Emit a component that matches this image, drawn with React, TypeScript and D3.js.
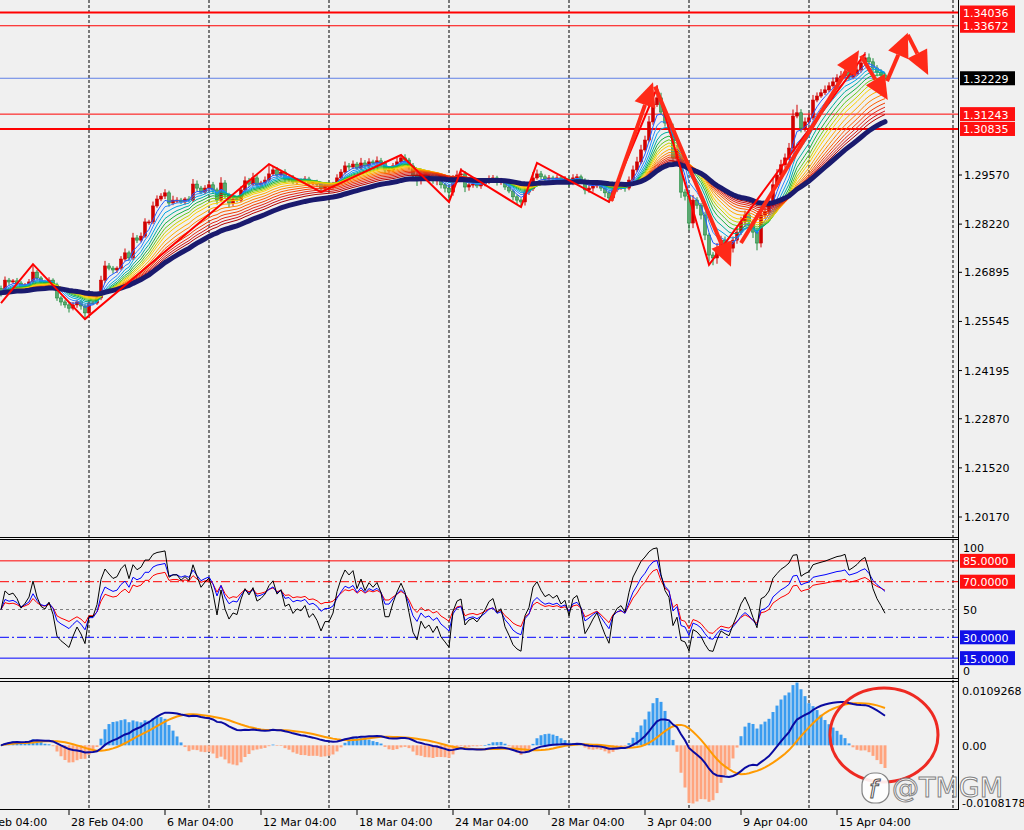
import React from "react";
import * as d3 from "d3";

// ---------- DATA ----------
const closes: number[] = [
  1.2633,1.2668,1.2663,1.2666,1.2660,1.2649,1.2655,1.2663,1.2690,1.2674,
  1.2663,1.2660,1.2668,1.2655,1.2619,1.2608,1.2600,1.2591,1.2600,1.2608,
  1.2597,1.2578,1.2605,1.2605,1.2619,1.2668,1.2707,1.2701,1.2696,1.2701,
  1.2726,1.2743,1.2729,1.2784,1.2778,1.2789,1.2828,1.2828,1.2872,1.2891,
  1.2899,1.2908,1.2880,1.2888,1.2888,1.2883,1.2891,1.2888,1.2932,1.2921,
  1.2910,1.2921,1.2930,1.2916,1.2888,1.2935,1.2902,1.2880,1.2891,1.2888,
  1.2916,1.2941,1.2932,1.2949,1.2930,1.2935,1.2943,1.2960,1.2971,1.2957,
  1.2965,1.2946,1.2949,1.2938,1.2943,1.2941,1.2946,1.2935,1.2938,1.2932,
  1.2921,1.2927,1.2927,1.2932,1.2949,1.2965,1.2982,1.2979,1.2987,1.2976,
  1.2990,1.2982,1.2993,1.2990,1.2996,1.2990,1.2971,1.2971,1.2982,1.2993,
  1.3004,1.2998,1.2982,1.2957,1.2943,1.2960,1.2949,1.2952,1.2941,1.2946,
  1.2930,1.2921,1.2910,1.2943,1.2957,1.2960,1.2924,1.2930,1.2932,1.2927,
  1.2932,1.2938,1.2946,1.2949,1.2938,1.2941,1.2924,1.2913,1.2897,1.2888,
  1.2883,1.2910,1.2919,1.2949,1.2960,1.2952,1.2946,1.2949,1.2946,1.2949,
  1.2943,1.2946,1.2935,1.2949,1.2952,1.2943,1.2916,1.2921,1.2927,1.2932,
  1.2921,1.2908,1.2894,1.2916,1.2924,1.2927,1.2921,1.2943,1.2971,1.2993,
  1.3026,1.3053,1.3103,1.3150,1.3169,1.3130,1.3100,1.3086,1.3004,1.3026,
  1.2910,1.2899,1.2825,1.2888,1.2874,1.2847,1.2792,1.2737,1.2729,1.2756,
  1.2778,1.2765,1.2756,1.2778,1.2800,1.2828,1.2847,1.2828,1.2800,1.2770,
  1.2847,1.2855,1.2874,1.2930,1.2957,1.2985,1.3004,1.3031,1.3119,1.3128,
  1.3086,1.3103,1.3114,1.3163,1.3174,1.3183,1.3191,1.3202,1.3213,1.3224,
  1.3229,1.3240,1.3226,1.3235,1.3246,1.3265,1.3279,1.3268,1.3251,1.3240,
  1.3232,1.32229,
];
const firstOpen = 1.2645;
// wick lengths in pips (0.0001)
const upperWick: number[] = [
  8,10,6,5,8,6,5,8,22,6,5,6,8,5,6,5,6,5,8,6,
  5,6,8,6,10,12,14,8,6,5,8,12,6,14,8,10,10,6,12,10,
  8,10,6,12,8,6,5,8,14,10,6,8,10,8,6,16,8,6,8,6,
  10,12,8,14,8,6,10,28,10,8,6,8,6,8,6,5,8,6,5,6,
  5,6,8,6,10,8,12,8,10,6,14,8,10,6,12,8,6,10,8,12,
  8,10,6,8,6,12,8,6,8,6,5,6,8,14,12,16,8,6,8,6,
  8,6,10,8,6,8,5,6,5,6,5,12,8,16,12,8,6,8,6,8,
  6,8,6,10,8,6,5,8,6,8,6,5,6,8,6,8,6,10,12,14,
  14,12,16,20,35,14,10,8,12,14,10,8,12,14,8,6,8,6,8,14,
  12,10,8,10,12,14,12,8,6,10,16,12,14,18,16,14,12,14,18,22,
  10,12,14,14,10,10,12,10,12,10,14,10,8,10,14,18,16,12,10,8,
  8,6,
];
const lowerWick: number[] = [
  10,6,8,5,6,8,6,5,6,8,5,6,8,6,8,10,8,12,6,8,
  10,18,8,6,5,6,8,6,10,8,6,5,8,6,8,6,5,8,6,5,
  6,8,10,6,8,6,8,6,5,8,6,6,8,10,12,6,10,12,8,6,
  6,5,8,6,10,8,6,5,6,8,6,10,8,6,8,6,8,10,6,8,
  10,8,6,8,6,5,6,8,6,5,6,8,6,5,6,8,10,8,6,5,
  6,8,10,14,16,12,8,10,8,12,10,12,26,10,8,6,14,10,8,6,
  8,6,6,8,10,8,8,6,10,12,14,10,8,6,5,6,8,6,8,6,
  8,6,10,6,8,6,12,8,10,6,8,12,14,8,6,8,10,6,5,6,
  6,5,6,8,6,8,10,12,14,12,16,12,20,14,10,12,14,18,20,16,
  14,12,16,12,10,8,10,12,16,20,12,10,8,8,6,6,8,6,8,6,
  12,10,8,6,6,5,6,6,5,6,5,6,8,6,6,8,6,8,10,12,
  8,6,
];

const ribbonPeriods = [4, 6, 8, 10, 12, 14, 16, 18, 21, 24, 27, 30, 33, 36, 39];
const ribbonColors = ["#1e5cff","#2a86ff","#00a4e4","#00ae9c","#18b040","#64c81c","#c4d200","#ffd000","#ffaa00","#ff8400","#ff5c00","#f03c00","#e42814","#d01414","#b00000"];
const basePeriod = 46;

const priceTicks = [1.29570, 1.28220, 1.26895, 1.25545, 1.24195, 1.22870, 1.21520, 1.20170];
const levelPrices = [1.34036, 1.33672, 1.31243, 1.30835];
const levelThick = [true, false, false, true];
const currentPrice = 1.32229;

const dateLabels = ["24 Feb 04:00","28 Feb 04:00","6 Mar 04:00","12 Mar 04:00","18 Mar 04:00","24 Mar 04:00","28 Mar 04:00","3 Apr 04:00","9 Apr 04:00","15 Apr 04:00"];
const dateBars = [-7, 17, 41, 65, 89, 113, 137, 161, 185, 209];
const gridBars = [22, 52, 82, 112, 142, 172, 202, 238];

const zigBars = [0, 8, 21, 67, 80, 100, 112, 115, 130, 134, 152, 164, 177, 216];
const zigPrices = [1.2605, 1.2712, 1.2561, 1.2987, 1.2910, 1.3012, 1.2883, 1.2971, 1.2869, 1.2990, 1.2883, 1.3196, 1.2710, 1.3290];

const arrowFromBar = [152.5, 163.5, 185, 215, 221.5, 226.7];
const arrowFromPrice = [1.2885, 1.3200, 1.2770, 1.3285, 1.3215, 1.3342];
const arrowToBar = [163, 182.5, 214.5, 221.7, 226.7, 231.8];
const arrowToPrice = [1.3212, 1.2705, 1.3300, 1.3163, 1.3348, 1.3232];

const rsiPeriods = [7, 14, 21];
const rsiColors = ["#000000", "#0000ff", "#ff0000"];
const rsiLevels = [85, 70, 50, 30, 15];
const rsiLevelLabels = ["85.0000", "70.0000", "50", "30.0000", "15.0000"];

const macdFast = 12, macdSlow = 26, macdSignal = 9;
const macdLineScale = 0.85, macdHistScale = 2.5;
const macdMax = 0.0109268, macdMin = -0.0108178;
const macdLabels = ["0.0109268", "0.00", "-0.0108178"];

// ---------- helpers ----------
function ema(src: number[], p: number) {
  const a = 2 / (p + 1);
  const out: number[] = [];
  let v = src[0];
  src.forEach((s, i) => { v = i === 0 ? s : a * s + (1 - a) * v; out.push(v); });
  return out;
}
function sma(src: number[], p: number) {
  return src.map((_, i) => {
    const s = src.slice(Math.max(0, i - p + 1), i + 1);
    return d3.mean(s) as number;
  });
}
function rsi(src: number[], p: number) {
  let ag = 0.0008, al = 0.0008;
  const out: number[] = [];
  src.forEach((c, i) => {
    if (i > 0) {
      const d = c - src[i - 1];
      ag = (ag * (p - 1) + Math.max(d, 0)) / p;
      al = (al * (p - 1) + Math.max(-d, 0)) / p;
    }
    out.push(100 - 100 / (1 + ag / al));
  });
  return out;
}

export default function App() {
  const W = 1024, H = 830;
  const N = closes.length;
  const opens = closes.map((c, i) => (i === 0 ? firstOpen : closes[i - 1]));
  const highs = closes.map((c, i) => Math.max(c, opens[i]) + upperWick[i] * 0.0001);
  const lows = closes.map((c, i) => Math.min(c, opens[i]) - lowerWick[i] * 0.0001);
  const idx = d3.range(N);

  const x = d3.scaleLinear().domain([0, 238]).range([1, 953]);
  const y = d3.scaleLinear().domain([1.20170, 1.29570]).range([517, 175]);
  const yR = d3.scaleLinear().domain([0, 100]).range([679, 540]);
  const yM = d3.scaleLinear().domain([macdMin, macdMax]).range([809, 681]);

  const ribbons = ribbonPeriods.map((p) => ema(closes, p));
  const base = ema(closes, basePeriod);
  const rsis = rsiPeriods.map((p) => rsi(closes, p));
  const e1 = ema(closes, macdFast), e2 = ema(closes, macdSlow);
  const macdRaw = e1.map((v, i) => v - e2[i]);
  const sigRaw = sma(macdRaw, macdSignal);
  const macd = macdRaw.map((v) => v * macdLineScale);
  const sig = sigRaw.map((v) => v * macdLineScale);
  const hist = macdRaw.map((v, i) => (v - sigRaw[i]) * macdHistScale);

  const line = (arr: number[], sc: d3.ScaleLinear<number, number>) =>
    d3.line<number>().x((_, i) => x(i)).y((v) => sc(v))(arr) || "";

  const zig = d3.line<number>().x((b) => x(b)).y((_, i) => y(zigPrices[i]))(zigBars) || "";

  const arrows = arrowFromBar.map((b, i) => {
    const x1 = x(b), y1 = y(arrowFromPrice[i]);
    const x2 = x(arrowToBar[i]), y2 = y(arrowToPrice[i]);
    const dx = x2 - x1, dy = y2 - y1, L = Math.hypot(dx, dy);
    const ux = dx / L, uy = dy / L;
    const hl = 24, hw = 11;
    const bx = x2 - ux * hl, by = y2 - uy * hl;
    const head = `M${x2},${y2}L${bx - uy * hw},${by + ux * hw}L${bx + uy * hw},${by - ux * hw}Z`;
    return { x1, y1, bx, by, head };
  });

  const red = "#ff0000";
  const labelBox = (cy: number, txt: string, bg: string, key: string) => (
    <g key={key}>
      <rect x={960} y={cy - 7} width={55} height={14} fill={bg} />
      <text x={963} y={cy + 4.5} fill="#fff">{txt}</text>
    </g>
  );

  return (
    <svg width={W} height={H} style={{ position: "fixed", left: 0, top: 0 }} fontFamily="DejaVu Sans" fontSize={11}>
      <defs>
        <clipPath id="cMain"><rect x={0} y={0} width={958} height={537} /></clipPath>
        <clipPath id="cRsi"><rect x={0} y={540} width={958} height={138} /></clipPath>
        <clipPath id="cMacd"><rect x={0} y={682} width={958} height={127} /></clipPath>
      </defs>
      <rect width={W} height={H} fill="#f0f0f0" />

      {/* grid */}
      {gridBars.map((b) => (
        <line key={b} x1={x(b)} x2={x(b)} y1={0} y2={810} stroke="#000" strokeDasharray="3,2" />
      ))}

      {/* MAIN PANEL */}
      <g clipPath="url(#cMain)">
        {levelPrices.map((p, i) => (
          <line key={p} x1={0} x2={958} y1={y(p)} y2={y(p)} stroke={red} strokeWidth={levelThick[i] ? 2 : 1} />
        ))}
        <line x1={0} x2={958} y1={y(currentPrice)} y2={y(currentPrice)} stroke="#3c64e6" strokeWidth={0.8} />
        {idx.map((i) => {
          const up = closes[i] >= opens[i];
          const col = up ? "#d00000" : "#1e8c3c";
          const top = y(Math.max(closes[i], opens[i]));
          const bot = y(Math.min(closes[i], opens[i]));
          return (
            <g key={i}>
              <line x1={x(i)} x2={x(i)} y1={y(highs[i])} y2={y(lows[i])} stroke={col} strokeWidth={1} />
              <rect x={x(i) - 1.5} y={top} width={3} height={Math.max(1, bot - top)} fill={up ? col : "#5aa870"} stroke={col} strokeWidth={0.6} />
            </g>
          );
        })}
        {ribbons.map((r, k) => (
          <path key={k} d={line(r, y)} fill="none" stroke={ribbonColors[k]} strokeWidth={1} />
        ))}
        <path d={line(base, y)} fill="none" stroke="#1a1a6e" strokeWidth={5} strokeLinecap="round" />
        <path d={zig} fill="none" stroke={red} strokeWidth={2} />
        {arrows.map((a, i) => (
          <g key={i}>
            <line x1={a.x1} y1={a.y1} x2={a.bx} y2={a.by} stroke="#ff2a18" strokeWidth={4} />
            <path d={a.head} fill="#ff2a18" />
          </g>
        ))}
      </g>

      {/* RSI PANEL */}
      <g clipPath="url(#cRsi)">
        {rsiLevels.map((v) => {
          const col = v > 50 ? red : v < 50 ? "#0000ff" : "#808080";
          const dash = v === 50 ? "3,3" : v === 70 || v === 30 ? "9,3,2,3" : undefined;
          return <line key={v} x1={0} x2={958} y1={yR(v)} y2={yR(v)} stroke={col} strokeDasharray={dash} />;
        })}
        {[2, 1, 0].map((k) => (
          <path key={k} d={line(rsis[k], yR)} fill="none" stroke={rsiColors[k]} strokeWidth={1} />
        ))}
      </g>

      {/* MACD PANEL */}
      <g clipPath="url(#cMacd)">
        {hist.map((h, i) => {
          const y0 = yM(0), y1 = yM(h);
          return (
            <rect key={i} x={x(i) - 1.5} width={3} y={Math.min(y0, y1)} height={Math.max(0.6, Math.abs(y1 - y0))}
              fill={h >= 0 ? "#3a9cf0" : "#ffa47e"} />
          );
        })}
        <path d={line(sig, yM)} fill="none" stroke="#ff9a00" strokeWidth={2} />
        <path d={line(macd, yM)} fill="none" stroke="#0a0aa0" strokeWidth={2} />
        <ellipse cx={884} cy={735} rx={54} ry={47} fill="none" stroke="#ee2a22" strokeWidth={3} />
      </g>

      {/* panel borders */}
      <line x1={0} x2={958} y1={537.5} y2={537.5} stroke="#000" />
      <line x1={0} x2={958} y1={539.5} y2={539.5} stroke="#000" />
      <line x1={0} x2={958} y1={678.5} y2={678.5} stroke="#000" />
      <line x1={0} x2={958} y1={681.5} y2={681.5} stroke="#000" />
      <line x1={0} x2={958} y1={809.5} y2={809.5} stroke="#000" />
      <line x1={958.5} x2={958.5} y1={0} y2={810} stroke="#000" />

      {/* right axis main */}
      {priceTicks.map((p) => (
        <g key={p}>
          <line x1={958} x2={962} y1={y(p)} y2={y(p)} stroke="#000" />
          <text x={964} y={y(p) + 4}>{p.toFixed(5)}</text>
        </g>
      ))}
      {levelPrices.map((p) => labelBox(y(p), p.toFixed(5), "#ff1010", "l" + p))}
      {labelBox(y(currentPrice), currentPrice.toFixed(5), "#000", "cur")}

      {/* RSI axis */}
      <text x={963} y={yR(100) + 12}>100</text>
      <text x={963} y={yR(0) - 4}>0</text>
      {rsiLevels.map((v, i) =>
        v === 50 ? (
          <text key={v} x={963} y={yR(v) + 4}>{rsiLevelLabels[i]}</text>
        ) : (
          labelBox(yR(v), rsiLevelLabels[i], v > 50 ? "#ff1010" : "#1010e8", "r" + v)
        )
      )}

      {/* MACD axis */}
      <text x={962} y={yM(macdMax) + 14}>{macdLabels[0]}</text>
      <text x={962} y={yM(0) + 5}>{macdLabels[1]}</text>
      <text x={962} y={yM(macdMin) - 2}>{macdLabels[2]}</text>

      {/* date axis */}
      {dateBars.map((b, i) => (
        <g key={b}>
          <line x1={x(b)} x2={x(b)} y1={810} y2={815} stroke="#000" />
          <text x={x(b) + 2} y={826}>{dateLabels[i]}</text>
        </g>
      ))}

      {/* watermark */}
      <g opacity={0.9}>
        <rect x={862} y={773} width={27} height={30} rx={12} fill="#fff" stroke="#777" strokeWidth={1.2} />
        <text x={869} y={798} fontSize={24} fontStyle="italic" fill="#fff" stroke="#444" strokeWidth={1}>f</text>
        <text x={892} y={797} fontSize={27} fill="#fff" stroke="#777" strokeWidth={1}>@TMGM</text>
      </g>
    </svg>
  );
}
